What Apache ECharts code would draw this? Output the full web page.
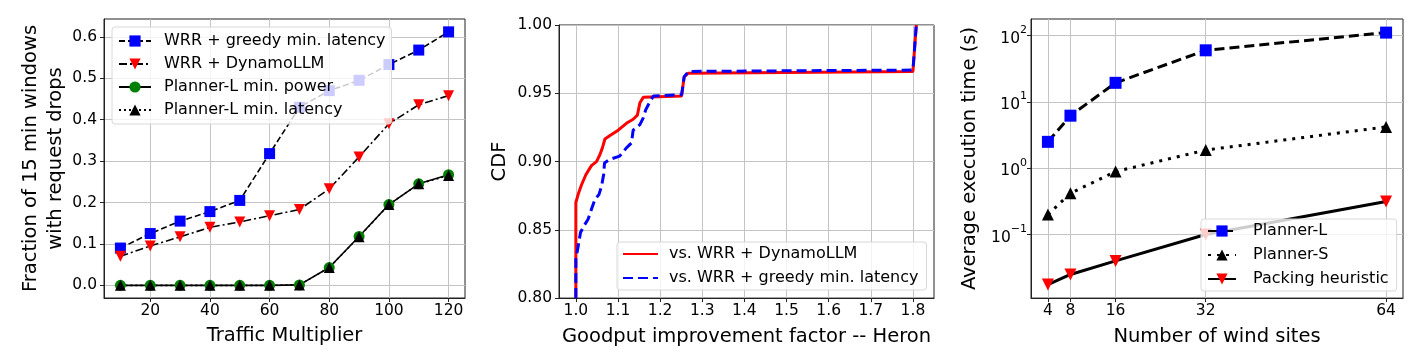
<!DOCTYPE html>
<html>
<head>
<meta charset="utf-8">
<script src="https://cdn.jsdelivr.net/npm/echarts@6/dist/echarts.min.js"></script>
<style>
html,body{margin:0;padding:0;background:#fff}
#main{width:1423px;height:354px}
</style>
</head>
<body>
<div id="main"></div>
<script>
// left: request drops vs traffic multiplier
var traffic=[10,20,30,40,50,60,70,80,90,100,110,120];
var wrrGreedy=[0.09,0.125,0.155,0.178,0.205,0.318,0.43,0.47,0.495,0.533,0.568,0.612];
var wrrDynamo=[0.07,0.095,0.117,0.14,0.153,0.168,0.183,0.233,0.31,0.39,0.436,0.458];
var plannerPower=[0,0,0,0,0,0,0.001,0.043,0.118,0.195,0.245,0.267];
var plannerLatency=[0,0,0,0,0,0,0.001,0.043,0.117,0.195,0.245,0.265];

// middle: CDF of goodput improvement
var cdfDynamoX=[1.0,1.0,1.0055,1.0135,1.024,1.037,1.049,1.057,1.063,1.069,1.081,1.1005,1.12,1.136,1.146,1.152,1.16,1.251,1.257,1.267,1.80,1.808];
var cdfDynamoY=[0.8,0.870,0.876,0.883,0.8905,0.897,0.900,0.905,0.910,0.9165,0.919,0.923,0.928,0.931,0.934,0.943,0.947,0.948,0.962,0.9647,0.966,1.0];
var cdfGreedyX=[1.0,1.0,1.0055,1.011,1.019,1.029,1.037,1.045,1.055,1.061,1.066,1.068,1.08,1.104,1.12,1.132,1.136,1.152,1.16,1.166,1.176,1.184,1.251,1.257,1.267,1.80,1.808];
var cdfGreedyY=[0.8,0.8285,0.838,0.848,0.8528,0.8577,0.865,0.872,0.876,0.882,0.8905,0.899,0.9015,0.904,0.910,0.9136,0.923,0.927,0.932,0.938,0.944,0.948,0.949,0.962,0.966,0.967,1.0];

// right: execution time vs wind sites
var sites=[4,8,16,32,64];
var plannerL=[2.5,6.2,19.4,60,111];
var plannerS=[0.2,0.42,0.89,1.88,4.2];
var packing=[0.0176,0.025,0.040,0.1,0.315];

var trafficTicks=[20,40,60,80,100,120];
var fracTicks=[0,0.1,0.2,0.3,0.4,0.5,0.6];
var goodputTicks=[1.0,1.1,1.2,1.3,1.4,1.5,1.6,1.7,1.8];
var siteTicks=[4,8,16,32,64];
var timeTicks=[0.1,1,10,100];

var FONT='DejaVu Sans';
var myChart=echarts.init(document.getElementById('main'));

function zip(xs,ys){
    return xs.map(function(x,i){return [x,ys[i]];});
}

function axis(gi,o){
    var a={
        type:o.type||'value',gridIndex:gi,min:o.min,max:o.max,
        name:o.name,nameLocation:'middle',nameGap:o.nameGap,
        nameTextStyle:{fontFamily:FONT,fontSize:19.5,color:'#000',lineHeight:25},
        axisLine:{show:true,onZero:false,lineStyle:{color:'#222',width:1}},
        axisTick:{show:true,length:4,lineStyle:{color:'#222'}},
        axisLabel:{formatter:o.fmt,fontFamily:FONT,fontSize:15.5,color:'#000',margin:o.margin},
        splitLine:{show:true,lineStyle:{color:'#c4c4c4',width:1}}
    };
    if(o.ticks){
        a.axisTick.customValues=o.ticks;
        a.axisLabel.customValues=o.ticks;
    }
    if(o.interval) a.interval=o.interval;
    if(o.rich) a.axisLabel.rich=o.rich;
    if(o.type==='log') a.logBase=10;
    return a;
}

function fix(n){return function(v){return v.toFixed(n);};}

var legendBase={
    orient:'vertical',itemHeight:14,
    backgroundColor:'rgba(255,255,255,0.8)',borderColor:'#d8d8d8',borderWidth:1,borderRadius:3,
    textStyle:{fontFamily:FONT,fontSize:16,color:'#000'}
};
function legend(o){
    return Object.assign({},legendBase,o);
}

var option={
    animation:false,
    grid:[
        {left:104,top:19,width:361,height:279,show:true,borderColor:'#222',borderWidth:1,backgroundColor:'transparent'},
        {left:559,top:25,width:375,height:274,show:true,borderColor:'#222',borderWidth:1,backgroundColor:'transparent'},
        {left:1031,top:19,width:372,height:280,show:true,borderColor:'#222',borderWidth:1,backgroundColor:'transparent'}
    ],
    xAxis:[
        axis(0,{min:4.5,max:125.5,ticks:trafficTicks,fmt:fix(0),name:'Traffic Multiplier',nameGap:22,margin:5}),
        axis(1,{min:0.96,max:1.85,ticks:goodputTicks,fmt:fix(1),name:'Goodput improvement factor -- Heron',nameGap:22,margin:5}),
        axis(2,{min:1,max:67,ticks:siteTicks,fmt:fix(0),name:'Number of wind sites',nameGap:22,margin:5})
    ],
    yAxis:[
        axis(0,{min:-0.0306,max:0.643,ticks:fracTicks,fmt:fix(1),name:'Fraction of 15 min windows\nwith request drops',nameGap:34,margin:7}),
        axis(1,{min:0.8,max:1.0,interval:0.05,fmt:fix(2),name:'CDF',nameGap:47,margin:7}),
        axis(2,{type:'log',min:0.011,max:178,ticks:timeTicks,name:'Average execution time (s)',nameGap:49,margin:4,
            fmt:function(v){
                var e=Math.round(Math.log10(v));
                return '{b|10}{s|'+(e<0?'\u2212'+(-e):e)+'}';
            },
            rich:{
                b:{fontFamily:FONT,fontSize:15.5,color:'#000',verticalAlign:'bottom',lineHeight:22},
                s:{fontFamily:FONT,fontSize:11,color:'#000',verticalAlign:'top',lineHeight:22}
            }})
    ],
    legend:[
        legend({left:112,top:27,padding:[6,6,6,6],itemGap:7,itemWidth:32,textStyle:{fontFamily:FONT,fontSize:16,color:'#000',padding:[0,0,0,8]},
            data:['WRR + greedy min. latency','WRR + DynamoLLM','Planner-L min. power','Planner-L min. latency']}),
        legend({left:617,top:242,padding:[4,8,4,5],itemGap:8,itemWidth:35,textStyle:{fontFamily:FONT,fontSize:16,color:'#000',padding:[0,0,0,6]},
            data:['vs. WRR + DynamoLLM','vs. WRR + greedy min. latency']}),
        legend({left:1201,top:219,padding:[4,8,4,6],itemGap:8,itemWidth:28,textStyle:{fontFamily:FONT,fontSize:16,color:'#000',padding:[0,0,0,12]},
            data:['Planner-L','Planner-S','Packing heuristic']})
    ],
    series:[
        {name:'WRR + greedy min. latency',type:'line',xAxisIndex:0,yAxisIndex:0,data:zip(traffic,wrrGreedy),
            symbol:'rect',symbolSize:11,itemStyle:{color:'#0000ff'},lineStyle:{color:'#000',width:1.6,type:[6,3]}},
        {name:'WRR + DynamoLLM',type:'line',xAxisIndex:0,yAxisIndex:0,data:zip(traffic,wrrDynamo),
            symbol:'triangle',symbolRotate:180,symbolSize:11,itemStyle:{color:'#ff0000'},lineStyle:{color:'#000',width:1.6,type:[8,3,2,3]}},
        {name:'Planner-L min. power',type:'line',xAxisIndex:0,yAxisIndex:0,data:zip(traffic,plannerPower),
            symbol:'circle',symbolSize:11,itemStyle:{color:'#008000'},lineStyle:{color:'#000',width:1.6}},
        {name:'Planner-L min. latency',type:'line',xAxisIndex:0,yAxisIndex:0,data:zip(traffic,plannerLatency),
            symbol:'triangle',symbolSize:11,itemStyle:{color:'#000'},lineStyle:{color:'#000',width:1.6,type:[2,3]}},

        {name:'vs. WRR + DynamoLLM',type:'line',xAxisIndex:1,yAxisIndex:1,data:zip(cdfDynamoX,cdfDynamoY),
            showSymbol:false,symbol:'none',itemStyle:{color:'rgba(0,0,0,0)'},lineStyle:{color:'#ff0000',width:3}},
        {name:'vs. WRR + greedy min. latency',type:'line',xAxisIndex:1,yAxisIndex:1,data:zip(cdfGreedyX,cdfGreedyY),
            showSymbol:false,symbol:'none',itemStyle:{color:'rgba(0,0,0,0)'},lineStyle:{color:'#0000ff',width:3,type:[10,5]}},

        {name:'Planner-L',type:'line',xAxisIndex:2,yAxisIndex:2,data:zip(sites,plannerL),
            symbol:'rect',symbolSize:12,itemStyle:{color:'#0000ff'},lineStyle:{color:'#000',width:3,type:[10,5]}},
        {name:'Planner-S',type:'line',xAxisIndex:2,yAxisIndex:2,data:zip(sites,plannerS),
            symbol:'triangle',symbolSize:12,itemStyle:{color:'#000'},lineStyle:{color:'#000',width:3,type:[3,6]}},
        {name:'Packing heuristic',type:'line',xAxisIndex:2,yAxisIndex:2,data:zip(sites,packing),
            symbol:'triangle',symbolRotate:180,symbolSize:12,itemStyle:{color:'#ff0000'},lineStyle:{color:'#000',width:3}}
    ]
};
myChart.setOption(option);
</script>
</body>
</html>
